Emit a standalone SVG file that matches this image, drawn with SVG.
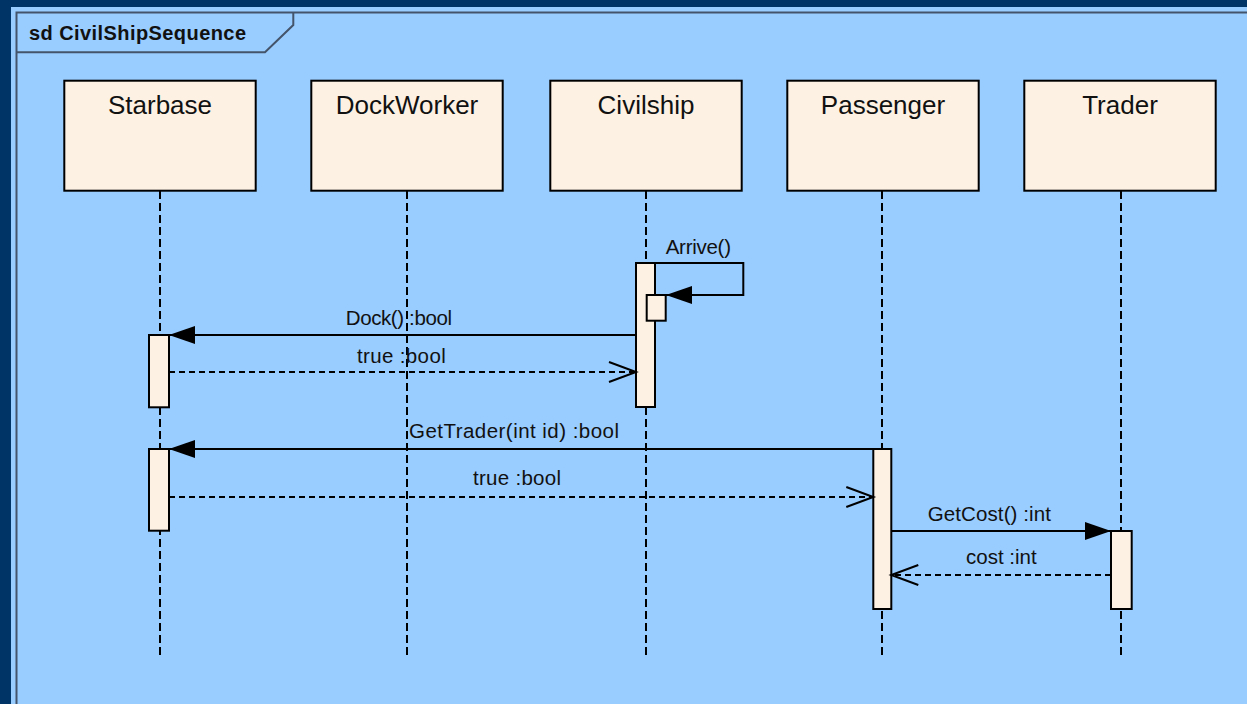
<svg xmlns="http://www.w3.org/2000/svg" width="1247" height="704" viewBox="0 0 1247 704">
  <style>
    .box { fill: #FCF1E3; stroke: #000; stroke-width: 2; }
    .bar { fill: #FCF1E3; stroke: #000; stroke-width: 2; }
    .life { stroke: #000; stroke-width: 2; stroke-dasharray: 8 4; fill: none; }
    .call { stroke: #000; stroke-width: 2; fill: none; marker-end: url(#filled); }
    .reply { stroke: #000; stroke-width: 2; fill: none; stroke-dasharray: 6 4; marker-end: url(#open); }
    .name { font-family: "Liberation Sans", Arial, sans-serif; font-size: 26px; fill: #111; text-anchor: middle; }
    .lbl { font-family: "Liberation Sans", Arial, sans-serif; font-size: 20.5px; fill: #111; }
    .title { font-family: "Liberation Sans", Arial, sans-serif; font-size: 20px; font-weight: bold; fill: #111; }
  </style>
  <defs>
    <marker id="filled" viewBox="0 0 26 18" refX="26" refY="9" markerWidth="26" markerHeight="18" markerUnits="userSpaceOnUse" orient="auto">
      <path d="M0,0 L26,9 L0,18 z" fill="#000"/>
    </marker>
    <marker id="open" viewBox="-2 -2 31 24" refX="27" refY="10" markerWidth="31" markerHeight="24" markerUnits="userSpaceOnUse" orient="auto" overflow="visible">
      <path d="M0,0 L27,10 L0,20" fill="none" stroke="#000" stroke-width="2"/>
    </marker>
  </defs>

  <!-- window background and frame -->
  <rect x="0" y="0" width="1247" height="704" fill="#003366"/>
  <rect x="11" y="7" width="1236" height="697" fill="#99CCFF"/>
  <g id="frame" fill="none" stroke="#44546A" stroke-width="2">
    <path d="M16.5,704 L16.5,12.5 L1247,12.5"/>
    <path d="M16.5,52.3 L265,52.3 L293.3,25 L293.3,12.5"/>
  </g>
  <text class="title" x="29" y="39.5" textLength="217" lengthAdjust="spacing">sd CivilShipSequence</text>

  <!-- lifelines -->
  <g id="starbase">
    <rect class="box" x="64.3" y="80.7" width="191.4" height="110"/>
    <text class="name" x="160" y="114">Starbase</text>
    <line class="life" x1="160" y1="191" x2="160" y2="656"/>
  </g>
  <g id="dockworker">
    <rect class="box" x="311.3" y="80.7" width="191.4" height="110"/>
    <text class="name" x="407" y="114">DockWorker</text>
    <line class="life" x1="407" y1="191" x2="407" y2="656"/>
  </g>
  <g id="civilship">
    <rect class="box" x="550.3" y="80.7" width="191.4" height="110"/>
    <text class="name" x="646" y="114">Civilship</text>
    <line class="life" x1="646" y1="191" x2="646" y2="656"/>
  </g>
  <g id="passenger">
    <rect class="box" x="787.3" y="80.7" width="191.4" height="110"/>
    <text class="name" x="883" y="114">Passenger</text>
    <line class="life" x1="882" y1="191" x2="882" y2="656"/>
  </g>
  <g id="trader">
    <rect class="box" x="1024.3" y="80.7" width="191.4" height="110"/>
    <text class="name" x="1120" y="114">Trader</text>
    <line class="life" x1="1121" y1="191" x2="1121" y2="656"/>
  </g>

  <!-- activation bars -->
  <g id="activations">
    <rect class="bar" x="636" y="263" width="19" height="144"/>
    <rect class="bar" x="646.7" y="295" width="19" height="25.7"/>
    <rect class="bar" x="149" y="335" width="20" height="72.3"/>
    <rect class="bar" x="149" y="449" width="20" height="81.7"/>
    <rect class="bar" x="873.3" y="449" width="18" height="160"/>
    <rect class="bar" x="1111" y="531" width="20.7" height="78"/>
  </g>

  <!-- messages -->
  <g id="connectors">
    <polyline class="call" points="655,263 743.3,263 743.3,295 666,295"/>
    <line class="call" x1="636" y1="335" x2="169" y2="335"/>
    <line class="reply" x1="169" y1="372" x2="636" y2="372"/>
    <line class="call" x1="873.3" y1="449" x2="169" y2="449"/>
    <line class="reply" x1="169" y1="497" x2="873.3" y2="497"/>
    <line class="call" x1="891.3" y1="531" x2="1111" y2="531"/>
    <line class="reply" x1="1111" y1="575" x2="891.3" y2="575"/>
  </g>
  <g id="labels">
    <text class="lbl" x="665.7" y="254" textLength="65.3" lengthAdjust="spacing">Arrive()</text>
    <text class="lbl" x="345.7" y="325" textLength="106.3" lengthAdjust="spacing">Dock() :bool</text>
    <text class="lbl" x="357" y="362.7" textLength="88.7" lengthAdjust="spacing">true :bool</text>
    <text class="lbl" x="409" y="438" textLength="210" lengthAdjust="spacing">GetTrader(int id) :bool</text>
    <text class="lbl" x="473" y="485" textLength="88" lengthAdjust="spacing">true :bool</text>
    <text class="lbl" x="927.7" y="520.7" textLength="123.3" lengthAdjust="spacing">GetCost() :int</text>
    <text class="lbl" x="966" y="564" textLength="70.7" lengthAdjust="spacing">cost :int</text>
  </g>
</svg>
